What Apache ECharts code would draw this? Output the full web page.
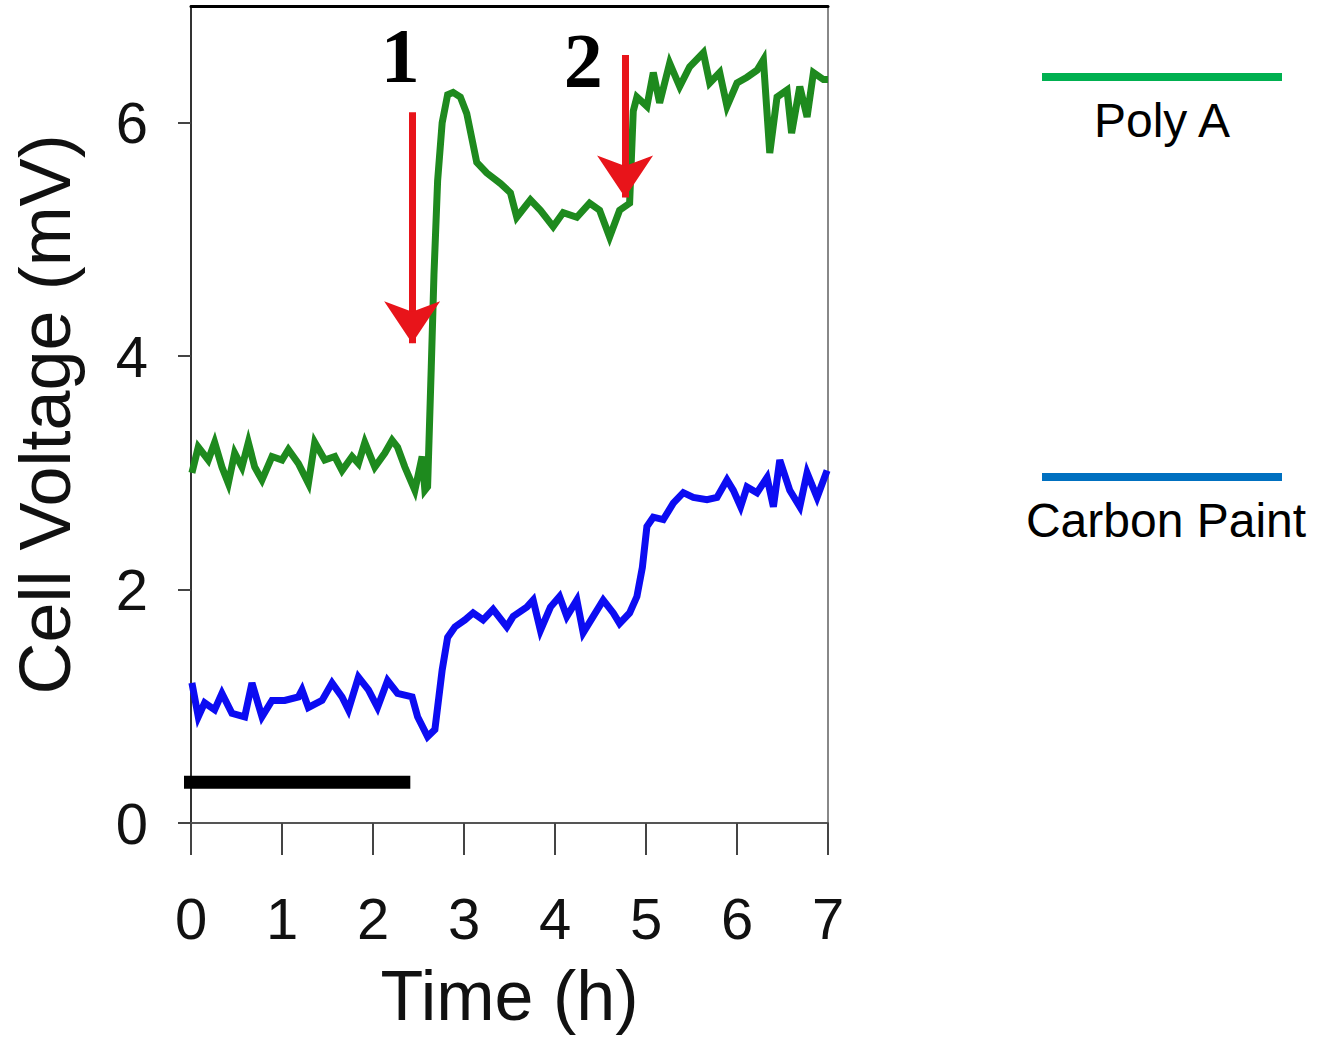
<!DOCTYPE html>
<html>
<head>
<meta charset="utf-8">
<script src="https://cdn.jsdelivr.net/npm/echarts@6/dist/echarts.min.js"></script>
<style>
html,body{margin:0;padding:0;background:#fff;}
#chart{width:1326px;height:1037px;}
</style>
</head>
<body>
<div id="chart"></div>
<script>
// ---- data ----
var polyATime = [0.01,0.08,0.19,0.26,0.34,0.41,0.48,0.56,0.63,0.70,0.78,0.89,1.00,1.07,1.18,1.29,1.36,1.47,1.58,1.66,1.77,1.84,1.91,2.02,2.13,2.21,2.27,2.35,2.46,2.54,2.57,2.60,2.64,2.67,2.71,2.76,2.82,2.88,2.96,3.03,3.14,3.25,3.40,3.51,3.58,3.73,3.84,3.98,4.09,4.24,4.38,4.49,4.60,4.71,4.82,4.86,4.90,5.01,5.08,5.15,5.26,5.37,5.48,5.63,5.70,5.81,5.89,6.00,6.11,6.22,6.29,6.36,6.44,6.55,6.60,6.69,6.77,6.84,6.95,7.00];
var polyAVoltage = [3.00,3.22,3.11,3.26,3.05,2.91,3.17,3.05,3.26,3.05,2.94,3.14,3.11,3.20,3.08,2.91,3.26,3.11,3.14,3.02,3.14,3.08,3.26,3.05,3.17,3.28,3.22,3.05,2.85,3.14,2.85,2.88,3.90,4.70,5.50,6.00,6.24,6.26,6.22,6.08,5.66,5.57,5.48,5.40,5.19,5.34,5.25,5.11,5.23,5.19,5.31,5.25,5.02,5.25,5.31,6.10,6.22,6.14,6.43,6.17,6.51,6.31,6.48,6.60,6.34,6.43,6.14,6.34,6.39,6.45,6.54,5.74,6.22,6.28,5.91,6.31,6.05,6.43,6.37,6.37];
var carbonTime = [0.01,0.08,0.15,0.26,0.34,0.45,0.59,0.67,0.78,0.89,1.03,1.18,1.22,1.29,1.44,1.55,1.66,1.73,1.84,1.95,2.05,2.16,2.27,2.43,2.49,2.60,2.68,2.76,2.82,2.90,3.01,3.10,3.21,3.32,3.47,3.54,3.69,3.76,3.84,3.95,4.05,4.13,4.24,4.31,4.42,4.53,4.64,4.71,4.82,4.90,4.96,5.01,5.08,5.19,5.30,5.41,5.52,5.67,5.78,5.89,5.96,6.04,6.11,6.22,6.33,6.40,6.47,6.58,6.69,6.77,6.88,6.99];
var carbonVoltage = [1.20,0.91,1.03,0.97,1.11,0.94,0.91,1.20,0.91,1.05,1.05,1.08,1.14,0.99,1.05,1.20,1.08,0.97,1.25,1.14,0.99,1.22,1.11,1.08,0.91,0.74,0.80,1.31,1.59,1.68,1.74,1.80,1.74,1.83,1.68,1.77,1.85,1.91,1.65,1.85,1.94,1.77,1.91,1.63,1.77,1.91,1.80,1.71,1.80,1.94,2.19,2.54,2.62,2.60,2.74,2.83,2.79,2.77,2.79,2.94,2.85,2.71,2.88,2.83,2.96,2.71,3.11,2.85,2.71,3.00,2.79,3.02];
var seriesNames = ['Poly A', 'Carbon Paint'];
var seriesColors = ['#00b050', '#0070c0'];      // legend swatch colours
var lineColors = ['#1e8a1e', '#0c0cf2'];        // plotted trace colours
var xTicks = [0,1,2,3,4,5,6,7];
var yTicks = [0,2,4,6];
var arrowTime = [2.43, 4.77];
var arrowStart = [6.09, 6.58];
var arrowEnd = [4.11, 5.36];
var markerLabels = ['1', '2'];
var markerTime = [2.30, 4.31];
var markerVoltage = [6.58, 6.53];
var barTime = [-0.14, 2.41];
var barVoltage = 0.35;

function zip(a, b) { return a.map(function (v, i) { return [v, b[i]]; }); }

var chart = echarts.init(document.getElementById('chart'), null, {renderer: 'svg'});
var font = '"Liberation Sans", Arial, Helvetica, sans-serif';

var option = {
  animation: false,
  backgroundColor: '#ffffff',
  grid: {left: 191, top: 6, right: 498, bottom: 214, outerBoundsMode: 'none'},
  xAxis: [{
    type: 'value', min: 0, max: 7, interval: 1,
    name: 'Time (h)', nameLocation: 'middle', nameGap: 138,
    nameTextStyle: {fontSize: 70, color: '#111', fontFamily: font},
    axisLine: {show: true, onZero: false, lineStyle: {color: '#555', width: 2}},
    axisTick: {show: true, inside: false, length: 32, lineStyle: {color: '#444', width: 2}},
    axisLabel: {fontSize: 58, color: '#111', margin: 66, fontFamily: font,
      formatter: function (v) { return xTicks.indexOf(v) >= 0 ? String(v) : ''; }},
    splitLine: {show: false}
  }, {
    type: 'value', min: 0, max: 7, position: 'top',
    axisLine: {show: true, onZero: false, lineStyle: {color: '#000', width: 3}},
    axisTick: {show: false}, axisLabel: {show: false}, splitLine: {show: false}
  }],
  yAxis: [{
    type: 'value', min: 0, max: 7, interval: 2,
    name: 'Cell Voltage (mV)', nameLocation: 'middle', nameGap: 110,
    nameTextStyle: {fontSize: 72, color: '#111', fontFamily: font},
    axisLine: {show: true, onZero: false, lineStyle: {color: '#333', width: 2}},
    axisTick: {show: true, inside: false, length: 13, customValues: yTicks, lineStyle: {color: '#444', width: 2}},
    axisLabel: {fontSize: 58, color: '#111', margin: 43, fontFamily: font, customValues: yTicks},
    splitLine: {show: false}
  }, {
    type: 'value', min: 0, max: 7, position: 'right',
    axisLine: {show: true, onZero: false, lineStyle: {color: '#888', width: 2}},
    axisTick: {show: false}, axisLabel: {show: false}, splitLine: {show: false}
  }],
  series: [{
    name: seriesNames[0], type: 'line', data: zip(polyATime, polyAVoltage),
    symbol: 'none', z: 3,
    lineStyle: {color: lineColors[0], width: 7, join: 'miter'}
  }, {
    name: seriesNames[1], type: 'line', data: zip(carbonTime, carbonVoltage),
    symbol: 'none', z: 3,
    lineStyle: {color: lineColors[1], width: 7, join: 'miter'}
  }, {
    name: 'bar', type: 'line', clip: false, data: zip(barTime, [barVoltage, barVoltage]),
    symbol: 'none', z: 2, silent: true,
    lineStyle: {color: '#000', width: 13, cap: 'butt'}
  }, {
    name: 'arrows', type: 'lines', coordinateSystem: 'cartesian2d', z: 5,
    symbol: ['none', 'arrow'], symbolSize: 42,
    lineStyle: {color: '#e8141a', width: 7, opacity: 1},
    data: arrowTime.map(function (t, i) { return {coords: [[t, arrowStart[i]], [t, arrowEnd[i]]]}; })
  }, {
    name: 'markers', type: 'scatter', z: 6, symbolSize: 1,
    itemStyle: {color: 'rgba(0,0,0,0)'},
    label: {show: true, position: 'inside', formatter: function (p) { return p.name; }, opacity: 1,
      fontSize: 78, fontWeight: 'bold', color: '#000', textBorderWidth: 0,
      fontFamily: '"Liberation Serif", "Times New Roman", serif'},
    data: markerLabels.map(function (s, i) { return {name: s, value: [markerTime[i], markerVoltage[i]]}; })
  }],
  graphic: [
    {type: 'rect', left: 1042, top: 73, shape: {width: 240, height: 8}, style: {fill: seriesColors[0]}},
    {type: 'text', x: 1162, y: 120, style: {text: seriesNames[0], fontSize: 48, fill: '#000', fontFamily: font, align: 'center', verticalAlign: 'middle'}},
    {type: 'rect', left: 1042, top: 473, shape: {width: 240, height: 8}, style: {fill: seriesColors[1]}},
    {type: 'text', x: 1166, y: 520, style: {text: seriesNames[1], fontSize: 48, fill: '#000', fontFamily: font, align: 'center', verticalAlign: 'middle'}}
  ]
};
chart.setOption(option);
</script>
</body>
</html>
